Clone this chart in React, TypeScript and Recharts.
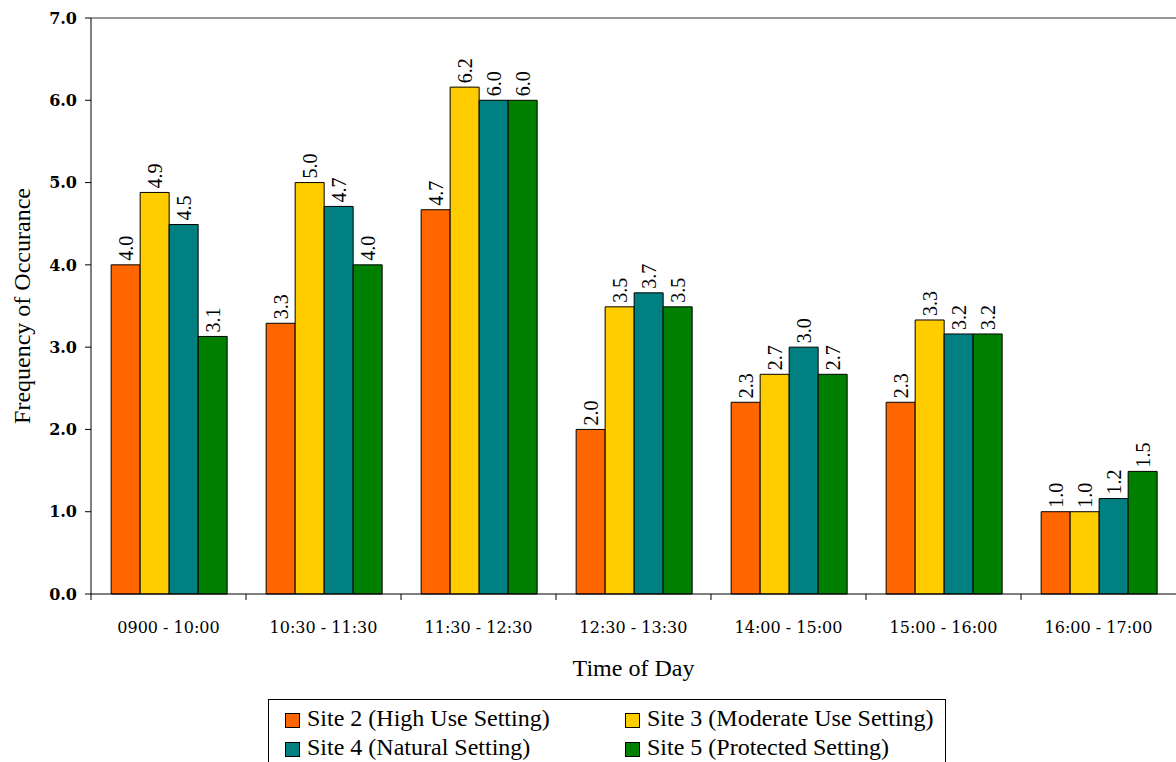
import React from 'react';
import {
    BarChart,
    Bar,
    XAxis,
    YAxis,
    Legend,
    LabelList,
    ReferenceLine
} from 'recharts';

const timeSlots = ['0900 - 10:00', '10:30 - 11:30', '11:30 - 12:30', '12:30 - 13:30', '14:00 - 15:00', '15:00 - 16:00', '16:00 - 17:00'];
const site2 = [4.0, 3.29, 4.67, 2.0, 2.33, 2.33, 1.0];
const site3 = [4.88, 5.0, 6.16, 3.49, 2.67, 3.33, 1.0];
const site4 = [4.49, 4.71, 6.0, 3.66, 3.0, 3.16, 1.16];
const site5 = [3.13, 4.0, 6.0, 3.49, 2.67, 3.16, 1.49];
const yTicks = [0, 1, 2, 3, 4, 5, 6, 7];

const seriesNames = ['Site 2 (High Use Setting)', 'Site 3 (Moderate Use Setting)', 'Site 4 (Natural Setting)', 'Site 5 (Protected Setting)'];
const seriesColors = ['#FF6600', '#FFCC00', '#008080', '#008000'];

const data = timeSlots.map((slot, i) => ({
    slot,
    s2: site2[i],
    s3: site3[i],
    s4: site4[i],
    s5: site5[i],
}));

const serif = "'Liberation Serif', serif";

// value label, rotated to read bottom-up above the bar
const renderValue = (props: any) => {
    const { x, y, width, value } = props;
    const cx = Number(x) + Number(width) / 2;
    const cy = Number(y) - 4;
    return (
        <text
            x={cx}
            y={cy}
            transform={`rotate(-90, ${cx}, ${cy})`}
            textAnchor="start"
            dominantBaseline="central"
            style={{ fontFamily: serif, fontSize: 20 }}
            fill="#000"
        >
            {Number(value).toFixed(1)}
        </text>
    );
};

// category label in the middle, tick mark on the band's left edge
const SlotTick = (props: any) => {
    const { x, y, payload } = props;
    const half = payload && payload.offset ? payload.offset : 77.5;
    const axisY = y - 8;
    return (
        <g>
            <line x1={x - half} x2={x - half} y1={axisY} y2={axisY + 6} stroke="#000" />
            <text x={x} y={axisY + 39} textAnchor="middle" style={{ fontFamily: "'DejaVu Serif', serif", fontSize: 16 }} fill="#000">
                {payload.value}
            </text>
        </g>
    );
};

const renderLegend = (props: any) => {
    const { payload } = props;
    return (
        <div style={{ width: 678, height: 80, border: '1px solid #000', boxSizing: 'border-box', background: '#fff' }}>
            <svg width={676} height={78}>
                {(payload || []).map((entry: any, i: number) => {
                    const col = i % 2;
                    const row = Math.floor(i / 2);
                    const sx = col === 0 ? 16 : 356;
                    const sy = row === 0 ? 13 : 42;
                    return (
                        <g key={entry.value}>
                            <rect x={sx + 0.5} y={sy + 0.5} width={14} height={14} fill={entry.color} stroke="#000" />
                            <text x={sx + 22} y={sy + 13} style={{ fontFamily: serif, fontSize: 24 }} fill="#000">
                                {entry.value}
                            </text>
                        </g>
                    );
                })}
            </svg>
        </div>
    );
};

export default function App() {
    const keys = ['s2', 's3', 's4', 's5'];
    return (
        <div style={{ position: 'absolute', left: 0, top: 0, width: 1176, height: 762, overflow: 'hidden', background: '#fff' }}>
            <BarChart
                width={1176}
                height={762}
                data={data}
                margin={{ top: 18, right: 0, left: 0, bottom: 0 }}
                barCategoryGap="13%"
                barGap={0}
            >
                <ReferenceLine y={7} stroke="#999" strokeWidth={2} />
                <XAxis
                    dataKey="slot"
                    interval={0}
                    height={168}
                    axisLine={{ stroke: '#000' }}
                    tickLine={false}
                    tickSize={6}
                    tickMargin={2}
                    tick={<SlotTick />}
                    label={{
                        value: 'Time of Day',
                        content: (p: any) => {
                            const vb = p.viewBox;
                            return (
                                <text x={vb.x + vb.width / 2} y={vb.y + 82} textAnchor="middle" style={{ fontFamily: serif, fontSize: 24 }} fill="#000">
                                    Time of Day
                                </text>
                            );
                        }
                    }}
                />
                <YAxis
                    width={91}
                    domain={[0, 7]}
                    ticks={yTicks}
                    interval={0}
                    tickFormatter={(v: number) => v.toFixed(1)}
                    axisLine={{ stroke: '#000' }}
                    tickLine={{ stroke: '#000' }}
                    tickSize={6}
                    tickMargin={8}
                    tick={{ fill: '#000', fontFamily: "'DejaVu Serif', serif", fontWeight: 'bold', fontSize: 16 }}
                    label={{
                        value: 'Frequency of Occurance',
                        content: (p: any) => {
                            const vb = p.viewBox;
                            const cx = vb.x + 22;
                            const cy = vb.y + vb.height / 2;
                            return (
                                <text x={cx} y={cy} transform={`rotate(-90, ${cx}, ${cy})`} textAnchor="middle" dominantBaseline="central" style={{ fontFamily: serif, fontSize: 24 }} fill="#000">
                                    Frequency of Occurance
                                </text>
                            );
                        }
                    }}
                />
                {keys.map((k, i) => (
                    <Bar key={k} dataKey={k} name={seriesNames[i]} fill={seriesColors[i]} stroke="#000" strokeWidth={1} isAnimationActive={false}>
                        <LabelList dataKey={k} content={renderValue} />
                    </Bar>
                ))}
                <Legend
                    layout="horizontal"
                    verticalAlign="middle"
                    align="center"
                    wrapperStyle={{ left: 268, top: 699, width: 678 }}
                    content={renderLegend}
                />
            </BarChart>
        </div>
    );
}
